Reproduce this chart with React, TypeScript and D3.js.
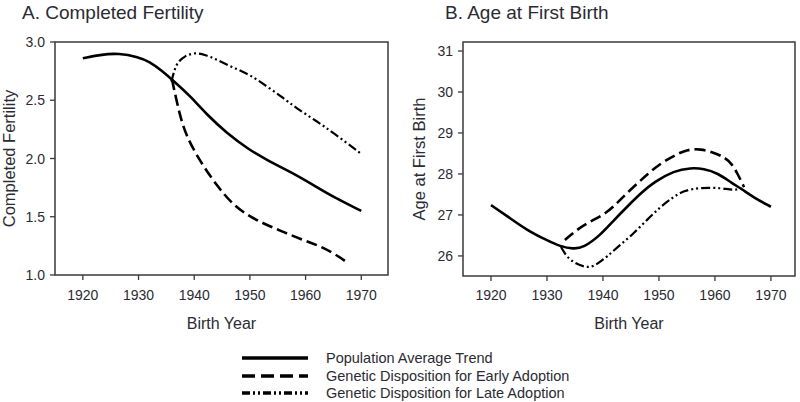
import React from "react";
import * as d3 from "d3";

// Panel A: Completed Fertility
const fertAvgYears = [1920, 1923, 1926.5, 1930, 1932, 1934, 1936.2, 1939.2, 1942.2, 1945.8, 1950, 1953, 1956, 1959, 1962, 1965, 1970];
const fertAvgValues = [2.86, 2.89, 2.905, 2.87, 2.83, 2.76, 2.67, 2.54, 2.38, 2.22, 2.07, 1.99, 1.915, 1.84, 1.755, 1.67, 1.55];
const fertEarlyYears = [1936, 1937.4, 1938.6, 1941, 1944, 1947, 1950, 1953, 1956, 1959, 1962, 1965, 1967.7];
const fertEarlyValues = [2.68, 2.37, 2.19, 1.98, 1.77, 1.60, 1.50, 1.43, 1.37, 1.31, 1.26, 1.19, 1.10];
const fertLateYears = [1935.9, 1936.5, 1937.1, 1938.3, 1940.1, 1942, 1944, 1947, 1950, 1953, 1956, 1958.4, 1962, 1965, 1970];
const fertLateValues = [2.66, 2.77, 2.83, 2.88, 2.91, 2.89, 2.85, 2.78, 2.72, 2.62, 2.52, 2.43, 2.32, 2.22, 2.04];

// Panel B: Age at First Birth
const ageAvgYears = [1920, 1923, 1926.4, 1930, 1932.4, 1934.7, 1936.5, 1939.5, 1942, 1944.3, 1947, 1949.1, 1952.7, 1955.7, 1958, 1960.5, 1963, 1964.8, 1967, 1970];
const ageAvgValues = [27.24, 26.96, 26.63, 26.38, 26.23, 26.17, 26.2, 26.5, 26.88, 27.2, 27.56, 27.8, 28.08, 28.15, 28.13, 28.02, 27.78, 27.63, 27.42, 27.2];
const ageEarlyYears = [1933.2, 1935, 1937.1, 1940.7, 1943, 1945.5, 1948, 1950.3, 1953, 1955.1, 1957.5, 1959.8, 1961.5, 1962.9, 1964, 1965.2];
const ageEarlyValues = [26.39, 26.6, 26.8, 27.04, 27.36, 27.69, 28.0, 28.26, 28.47, 28.6, 28.61, 28.52, 28.42, 28.27, 28.02, 27.68];
const ageLateYears = [1932.5, 1933.5, 1935, 1936.5, 1937.7, 1939, 1940.7, 1943, 1945.5, 1948, 1950.3, 1952.5, 1954.5, 1957.5, 1961.1, 1963.4, 1965.2];
const ageLateValues = [26.22, 25.98, 25.82, 25.74, 25.72, 25.8, 25.98, 26.26, 26.55, 26.9, 27.2, 27.43, 27.6, 27.67, 27.66, 27.6, 27.65];

const xTicks = [1920, 1930, 1940, 1950, 1960, 1970];
const fertTicks = [1.0, 1.5, 2.0, 2.5, 3.0];
const ageTicks = [26, 27, 28, 29, 30, 31];

const legendLabels = [
  "Population Average Trend",
  "Genetic Disposition for Early Adoption",
  "Genetic Disposition for Late Adoption",
];

const FONT = "'Liberation Sans', Arial, sans-serif";
const TEXT = "#2b2b33";
const AXIS = "#3a3a3a";
const DASH_EARLY = "11,5";
const DASH_LATE = "9,3,2,3,2,3";
const LEG_DASH_EARLY = "13,6";
const LEG_DASH_LATE = "8,3,2,3,2,3";

type Series = { years: number[]; values: number[]; dash?: string; width: number };

function Panel(props: {
  title: string;
  titleX: number;
  yLabel: string;
  yLabelX: number;
  left: number; right: number; top: number; bottom: number;
  xDomain: [number, number];
  yDomain: [number, number];
  yTicks: number[];
  yFormat: (v: number) => string;
  series: Series[];
}) {
  const { left, right, top, bottom } = props;
  const x = d3.scaleLinear().domain(props.xDomain).range([left, right]);
  const y = d3.scaleLinear().domain(props.yDomain).range([bottom, top]);
  const line = d3.line<[number, number]>()
    .x((d) => x(d[0]))
    .y((d) => y(d[1]))
    .curve(d3.curveBasis);
  return (
    <g>
      <text x={props.titleX} y={19} fontSize={19} fill={TEXT} fontFamily={FONT}>{props.title}</text>
      <rect x={left} y={top} width={right - left} height={bottom - top} fill="none" stroke={AXIS} strokeWidth={1.5} />
      {xTicks.map((t) => (
        <g key={"x" + t}>
          <line x1={x(t)} x2={x(t)} y1={bottom} y2={bottom + 5} stroke={AXIS} strokeWidth={1.3} />
          <text x={x(t)} y={300} fontSize={14} textAnchor="middle" fill={TEXT} fontFamily={FONT}>{t}</text>
        </g>
      ))}
      {props.yTicks.map((t) => (
        <g key={"y" + t}>
          <line x1={left - 5} x2={left} y1={y(t)} y2={y(t)} stroke={AXIS} strokeWidth={1.3} />
          <text x={left - 10} y={y(t) + 5} fontSize={14} textAnchor="end" fill={TEXT} fontFamily={FONT}>{props.yFormat(t)}</text>
        </g>
      ))}
      <text x={(left + right) / 2} y={329} fontSize={16} textAnchor="middle" fill={TEXT} fontFamily={FONT}>Birth Year</text>
      <text transform={`translate(${props.yLabelX},${(top + bottom) / 2}) rotate(-90)`} fontSize={16.5} textAnchor="middle" dy="0.35em" fill={TEXT} fontFamily={FONT}>{props.yLabel}</text>
      {props.series.map((s, i) => (
        <path key={i}
          d={line(s.years.map((yr, j) => [yr, s.values[j]] as [number, number])) || ""}
          fill="none" stroke="#000" strokeWidth={s.width}
          strokeDasharray={s.dash} strokeLinecap="butt" strokeLinejoin="round" />
      ))}
    </g>
  );
}

export default function App() {
  const legendY = [358, 376, 393];
  const legendDash = [undefined, LEG_DASH_EARLY, LEG_DASH_LATE];
  return (
    <svg width={800} height={402} style={{ position: "absolute", left: 0, top: 0, background: "#fff" }}>
      <rect width={800} height={402} fill="#fff" />
      <Panel
        title="A. Completed Fertility" titleX={22}
        yLabel="Completed Fertility" yLabelX={9}
        left={55} right={388} top={42} bottom={275}
        xDomain={[1915, 1974.8]} yDomain={[1, 3]}
        yTicks={fertTicks} yFormat={(v) => v.toFixed(1)}
        series={[
          { years: fertAvgYears, values: fertAvgValues, width: 2.6 },
          { years: fertEarlyYears, values: fertEarlyValues, dash: DASH_EARLY, width: 2.6 },
          { years: fertLateYears, values: fertLateValues, dash: DASH_LATE, width: 2.2 },
        ]}
      />
      <Panel
        title="B. Age at First Birth" titleX={445}
        yLabel="Age at First Birth" yLabelX={419}
        left={463} right={795} top={42} bottom={276}
        xDomain={[1915, 1974.3]} yDomain={[25.51, 31.22]}
        yTicks={ageTicks} yFormat={(v) => String(v)}
        series={[
          { years: ageAvgYears, values: ageAvgValues, width: 2.6 },
          { years: ageEarlyYears, values: ageEarlyValues, dash: DASH_EARLY, width: 2.6 },
          { years: ageLateYears, values: ageLateValues, dash: DASH_LATE, width: 2.2 },
        ]}
      />
      {legendLabels.map((lab, i) => (
        <g key={lab}>
          <line x1={242} x2={308} y1={legendY[i]} y2={legendY[i]} stroke="#000" strokeWidth={3.5} strokeDasharray={legendDash[i]} />
          <text x={326} y={legendY[i] + 5} fontSize={14.5} fill={TEXT} fontFamily={FONT}>{lab}</text>
        </g>
      ))}
    </svg>
  );
}
